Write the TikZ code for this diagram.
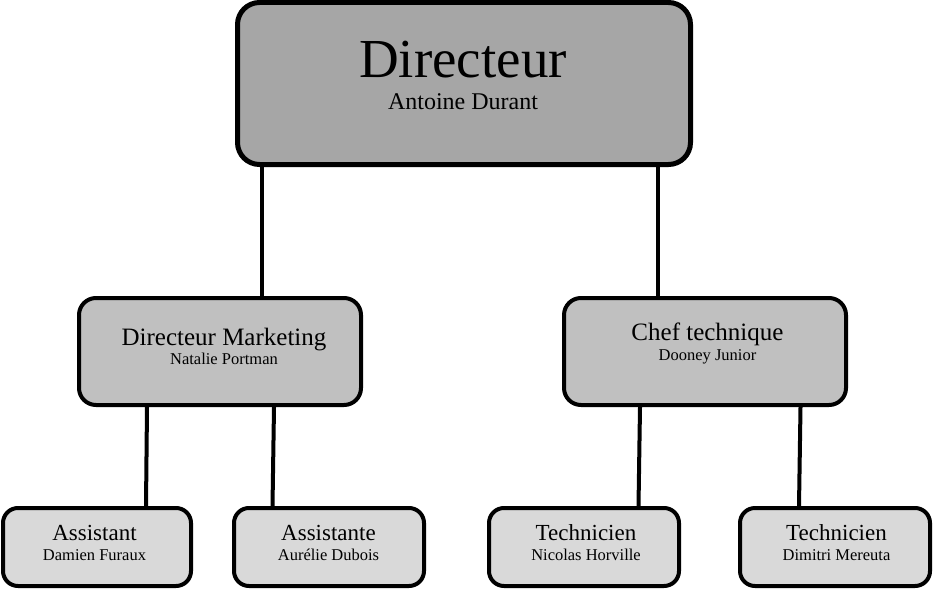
\documentclass[tikz,border=0pt]{standalone}
\usepackage{fontspec}
\setmainfont{Liberation Serif}
\definecolor{gtop}{HTML}{A6A6A6}
\definecolor{gmid}{HTML}{C0C0C0}
\definecolor{gbot}{HTML}{D9D9D9}
\newcommand{\fs}[1]{\fontsize{#1}{#1}\selectfont}
\tikzset{
  boxbase/.style={draw=black, line width=4pt, rectangle, inner sep=0pt},
  topbox/.style={boxbase, fill=gtop, rounded corners=22pt, line width=5pt},
  midbox/.style={boxbase, fill=gmid, rounded corners=17pt},
  botbox/.style={boxbase, fill=gbot, rounded corners=15pt},
  lbl/.style={anchor=base, inner sep=0pt},
  link/.style={line width=4pt, black}
}
\begin{document}
\begin{tikzpicture}[x=1pt,y=-1pt]
\useasboundingbox (0,0) rectangle (933,591);
% boxes
\node[topbox, minimum width=453pt, minimum height=162pt] (dir) at (464,83.5) {};
\node[midbox, minimum width=282pt, minimum height=107pt] (dm) at (220,351.5) {};
\node[midbox, minimum width=282pt, minimum height=107pt] (ct) at (705,351.5) {};
\node[botbox, minimum width=188pt, minimum height=78pt] (a1) at (97,547) {};
\node[botbox, minimum width=190pt, minimum height=78pt] (a2) at (329,547) {};
\node[botbox, minimum width=190pt, minimum height=78pt] (t1) at (584,547) {};
\node[botbox, minimum width=190pt, minimum height=78pt] (t2) at (835,547) {};
% texts
\node[lbl] (dirT) at (463,78) {\fs{55}Directeur};
\node[lbl] (dirN) at (463,110) {\fs{24}Antoine Durant};
\node[lbl] (dmT) at (224,345) {\fs{25}Directeur Marketing};
\node[lbl] (dmN) at (224,364) {\fs{16.5}Natalie Portman};
\node[lbl] (ctT) at (707.5,340.5) {\fs{25}Chef technique};
\node[lbl] (ctN) at (707.5,360) {\fs{16.5}Dooney Junior};
\node[lbl] (a1T) at (94.5,540.5) {\fs{23}Assistant};
\node[lbl] (a1N) at (94.5,560) {\fs{16.5}Damien Furaux};
\node[lbl] (a2T) at (328.5,540.5) {\fs{23}Assistante};
\node[lbl] (a2N) at (328.5,560) {\fs{16.5}Aurélie Dubois};
\node[lbl] (t1T) at (586,540.5) {\fs{23}Technicien};
\node[lbl] (t1N) at (586,560) {\fs{16.5}Nicolas Horville};
\node[lbl] (t2T) at (836.5,540.5) {\fs{23}Technicien};
\node[lbl] (t2N) at (836.5,560) {\fs{16.5}Dimitri Mereuta};
% connectors
\draw[link] (dir.south -| 261.5,0) -- (dm.north -| 261.5,0);
\draw[link] (dir.south -| 657.5,0) -- (ct.north -| 657.5,0);
\draw[link] (dm.south -| 147,0) -- (a1.north -| 146,0);
\draw[link] (dm.south -| 274,0) -- (a2.north -| 272.5,0);
\draw[link] (ct.south -| 640,0) -- (t1.north -| 638.5,0);
\draw[link] (ct.south -| 800.5,0) -- (t2.north -| 799,0);
\end{tikzpicture}
\end{document}
